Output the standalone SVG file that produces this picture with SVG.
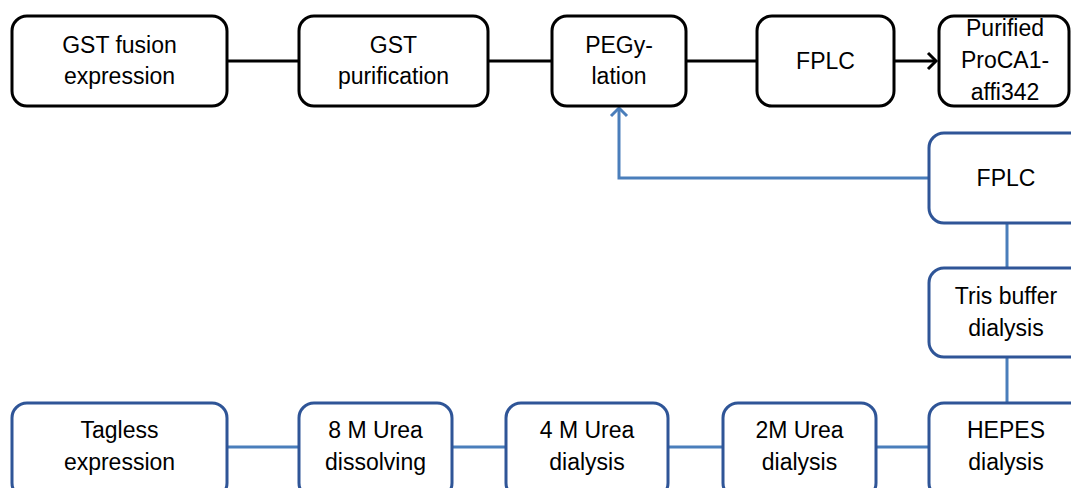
<svg xmlns="http://www.w3.org/2000/svg" width="1071" height="488" viewBox="0 0 1071 488">
<style>
.bk{fill:#fff;stroke:#000;stroke-width:3}
.bl{fill:#fff;stroke:#2F5597;stroke-width:3}
.t{font-family:"Liberation Sans",Arial,sans-serif;font-size:23px;fill:#000;text-anchor:middle}
.ck{fill:none;stroke:#000;stroke-width:3}
.cb{fill:none;stroke:#4A7EBB;stroke-width:3}
</style>
<defs>
<marker id="ak" markerUnits="userSpaceOnUse" markerWidth="20" markerHeight="20" refX="10" refY="10" orient="auto">
<path d="M2,2 L10,10 L2,18" fill="none" stroke="#000" stroke-width="3"/>
</marker>
<marker id="ab" markerUnits="userSpaceOnUse" markerWidth="20" markerHeight="20" refX="10" refY="10" orient="auto">
<path d="M2,2 L10,10 L2,18" fill="none" stroke="#4A7EBB" stroke-width="3"/>
</marker>
</defs>
<rect width="1071" height="488" fill="#fff"/>
<g id="connectors">
<line class="ck" x1="227" y1="61" x2="299" y2="61"/>
<line class="ck" x1="488" y1="61" x2="552" y2="61"/>
<line class="ck" x1="686" y1="61" x2="757" y2="61"/>
<line class="ck" x1="894" y1="61" x2="936" y2="61" marker-end="url(#ak)"/>
<polyline class="cb" points="929,178 619,178 619,108" marker-end="url(#ab)"/>
<line class="cb" x1="1007" y1="223" x2="1007" y2="268"/>
<line class="cb" x1="1007" y1="357" x2="1007" y2="403"/>
<line class="cb" x1="227" y1="447" x2="299" y2="447"/>
<line class="cb" x1="452" y1="447" x2="506" y2="447"/>
<line class="cb" x1="668" y1="447" x2="723" y2="447"/>
<line class="cb" x1="876" y1="447" x2="929" y2="447"/>
</g>
<g id="gst-fusion"><rect class="bk" x="12" y="16" width="215" height="90" rx="15"/><text class="t" x="119.5" y="53">GST fusion</text><text class="t" x="119.5" y="84">expression</text></g>
<g id="gst-purification"><rect class="bk" x="299" y="16" width="189" height="90" rx="15"/><text class="t" x="393.5" y="53">GST</text><text class="t" x="393.5" y="84">purification</text></g>
<g id="pegylation"><rect class="bk" x="552" y="16" width="134" height="90" rx="15"/><text class="t" x="619" y="53">PEGy-</text><text class="t" x="619" y="84">lation</text></g>
<g id="fplc-top"><rect class="bk" x="757" y="16" width="137" height="90" rx="15"/><text class="t" x="825.5" y="69">FPLC</text></g>
<g id="purified"><rect class="bk" x="939" y="16" width="130" height="90" rx="15"/><text class="t" x="1005" y="36">Purified</text><text class="t" x="1005" y="68">ProCA1-</text><text class="t" x="1005" y="100">affi342</text></g>
<g id="fplc-blue"><rect class="bl" x="929" y="133" width="156" height="90" rx="15"/><text class="t" x="1006" y="186">FPLC</text></g>
<g id="tris"><rect class="bl" x="929" y="268" width="156" height="89" rx="15"/><text class="t" x="1006" y="304">Tris buffer</text><text class="t" x="1006" y="336">dialysis</text></g>
<g id="tagless"><rect class="bl" x="12" y="403" width="215" height="95" rx="15"/><text class="t" x="119.5" y="438">Tagless</text><text class="t" x="119.5" y="470">expression</text></g>
<g id="urea8"><rect class="bl" x="299" y="403" width="153" height="95" rx="15"/><text class="t" x="375.5" y="438">8 M Urea</text><text class="t" x="375.5" y="470">dissolving</text></g>
<g id="urea4"><rect class="bl" x="506" y="403" width="162" height="95" rx="15"/><text class="t" x="587" y="438">4 M Urea</text><text class="t" x="587" y="470">dialysis</text></g>
<g id="urea2"><rect class="bl" x="723" y="403" width="153" height="95" rx="15"/><text class="t" x="799.5" y="438">2M Urea</text><text class="t" x="799.5" y="470">dialysis</text></g>
<g id="hepes"><rect class="bl" x="929" y="403" width="156" height="95" rx="15"/><text class="t" x="1006" y="438">HEPES</text><text class="t" x="1006" y="470">dialysis</text></g>
</svg>
